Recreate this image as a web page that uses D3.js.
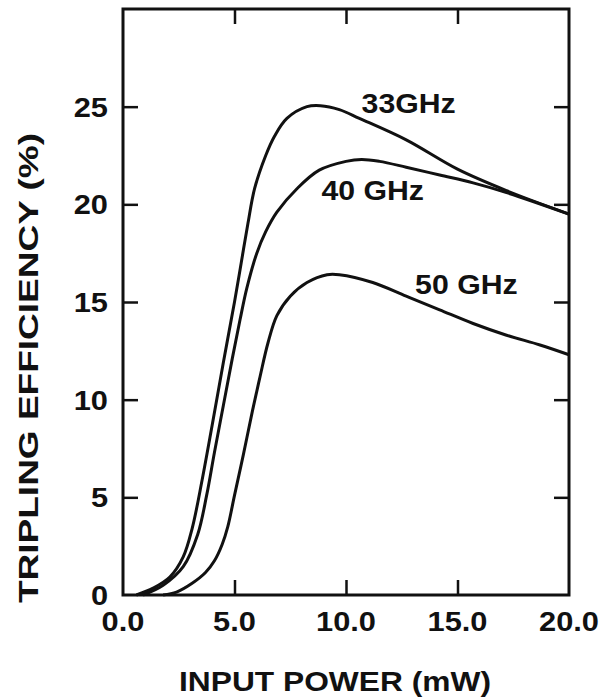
<!DOCTYPE html>
<html>
<head>
<meta charset="utf-8">
<script src="https://cdn.jsdelivr.net/npm/d3@7"></script>
<style>
  body { margin: 0; background: #fff; }
  svg text { font-family: "Liberation Sans", Arial, Helvetica, sans-serif; font-weight: bold; fill: #111; }
</style>
</head>
<body>
<div id="chart"></div>
<script>
// tripling efficiency vs input power
var power33 = [0.6, 1.35, 2.1, 2.7, 3.1, 3.55, 4.0, 4.5, 5.0, 5.3, 5.6, 5.9, 6.4, 6.8, 7.35, 8.25, 8.85, 9.7, 10.6, 12.7, 15.0, 17.2, 20.0];
var eff33   = [0, 0.35, 0.92, 1.95, 3.4, 5.9, 8.7, 11.9, 15.0, 17.0, 19.0, 20.8, 22.5, 23.5, 24.4, 25.0, 25.05, 24.85, 24.4, 23.3, 21.8, 20.7, 19.5];

var power40 = [0.9, 1.8, 2.7, 3.35, 3.75, 4.1, 4.5, 4.9, 5.25, 5.55, 6.0, 6.4, 6.9, 7.8, 8.8, 10.0, 10.7, 11.5, 12.7, 14.2, 15.7, 17.2, 20.0];
var eff40   = [0, 0.5, 1.45, 3.1, 5.1, 7.3, 9.7, 12.1, 14.1, 15.7, 17.5, 18.6, 19.6, 20.8, 21.75, 22.2, 22.3, 22.2, 21.9, 21.5, 21.1, 20.6, 19.5];

var power50 = [1.8, 2.4, 3.1, 3.7, 4.1, 4.45, 4.7, 5.0, 5.4, 5.8, 6.15, 6.5, 6.9, 7.5, 8.25, 9.15, 9.7, 11.2, 12.7, 14.2, 15.7, 17.2, 18.7, 20.0];
var eff50   = [0, 0.15, 0.6, 1.15, 1.75, 2.6, 3.5, 5.1, 7.2, 9.4, 11.2, 12.9, 14.3, 15.3, 16.0, 16.4, 16.4, 16.0, 15.3, 14.6, 13.9, 13.3, 12.8, 12.3];

var seriesNames = ["33GHz", "40 GHz", "50 GHz"];
// label anchors in data units (power, efficiency)
var labelPower = [10.7, 8.9, 13.1];
var labelEff   = [24.7, 20.2, 15.4];

var xTicks = [0, 5, 10, 15, 20];
var yTicks = [0, 5, 10, 15, 20, 25];

var margin = { top: 9, right: 39, bottom: 105, left: 123 },
  width = 608 - margin.left - margin.right,
  height = 700 - margin.top - margin.bottom;

var x = d3.scaleLinear().domain([0, 20]).range([0, width]);
var y = d3.scaleLinear().domain([0, 30]).range([height, 0]);

var svg = d3.select("#chart").append("svg")
  .attr("width", 608)
  .attr("height", 700);

var g = svg.append("g")
  .attr("transform", `translate(${margin.left}, ${margin.top})`);

// frame
g.append("rect")
  .attr("width", width)
  .attr("height", height)
  .attr("fill", "none")
  .attr("stroke", "#111")
  .attr("stroke-width", 3);

var tickLen = 15;
var innerX = xTicks.filter(d => d > 0 && d < 20);
var innerY = yTicks.filter(d => d > 0);

// inward ticks on all four sides
g.append("g").call(d3.axisBottom(x).tickValues(innerX).tickSize(-tickLen).tickFormat(""))
  .attr("transform", `translate(0, ${height})`);
g.append("g").call(d3.axisTop(x).tickValues(innerX).tickSize(-tickLen).tickFormat(""));
g.append("g").call(d3.axisLeft(y).tickValues(innerY).tickSize(-tickLen).tickFormat(""));
g.append("g").call(d3.axisRight(y).tickValues(innerY).tickSize(-tickLen).tickFormat(""))
  .attr("transform", `translate(${width}, 0)`);
g.selectAll(".domain").remove();
g.selectAll(".tick line").attr("stroke", "#111").attr("stroke-width", 2.5);

// the scanned lettering is wider than Liberation Sans, stretch it a bit
function widen(sel, k) {
  sel.each(function () {
    var w = this.getComputedTextLength();
    d3.select(this).attr("textLength", w * k).attr("lengthAdjust", "spacingAndGlyphs");
  });
}

// tick labels
g.selectAll(".xlab").data(xTicks).enter().append("text")
  .attr("class", "xlab")
  .attr("x", d => x(d))
  .attr("y", height + 36)
  .attr("text-anchor", "middle")
  .style("font-size", "28px")
  .text(d => d.toFixed(1))
  .call(widen, 1.1);

g.selectAll(".ylab").data(yTicks).enter().append("text")
  .attr("class", "ylab")
  .attr("x", -15)
  .attr("y", d => y(d))
  .attr("dy", "0.36em")
  .attr("text-anchor", "end")
  .style("font-size", "28px")
  .text(d => d)
  .call(widen, 1.1);

// axis titles
svg.append("text")
  .attr("x", 335)
  .attr("y", 691)
  .attr("text-anchor", "middle")
  .attr("textLength", 312)
  .attr("lengthAdjust", "spacingAndGlyphs")
  .style("font-size", "28px")
  .text("INPUT POWER (mW)");

svg.append("text")
  .attr("transform", "translate(38, 368) rotate(-90)")
  .attr("text-anchor", "middle")
  .attr("textLength", 470)
  .attr("lengthAdjust", "spacingAndGlyphs")
  .style("font-size", "28px")
  .text("TRIPLING EFFICIENCY (%)");

// curves
var curves = [
  d3.zip(power33, eff33),
  d3.zip(power40, eff40),
  d3.zip(power50, eff50)
];

var line = d3.line()
  .x(d => x(d[0]))
  .y(d => y(d[1]))
  .curve(d3.curveCatmullRom.alpha(0.5));

g.selectAll(".curve").data(curves).enter().append("path")
  .attr("class", "curve")
  .attr("d", line)
  .attr("fill", "none")
  .attr("stroke", "#111")
  .attr("stroke-width", 3)
  .attr("stroke-linejoin", "round");

g.selectAll(".clabel").data(seriesNames).enter().append("text")
  .attr("class", "clabel")
  .attr("x", (d, i) => x(labelPower[i]))
  .attr("y", (d, i) => y(labelEff[i]))
  .style("font-size", "27px")
  .text(d => d)
  .call(widen, 1.12);
</script>
</body>
</html>
